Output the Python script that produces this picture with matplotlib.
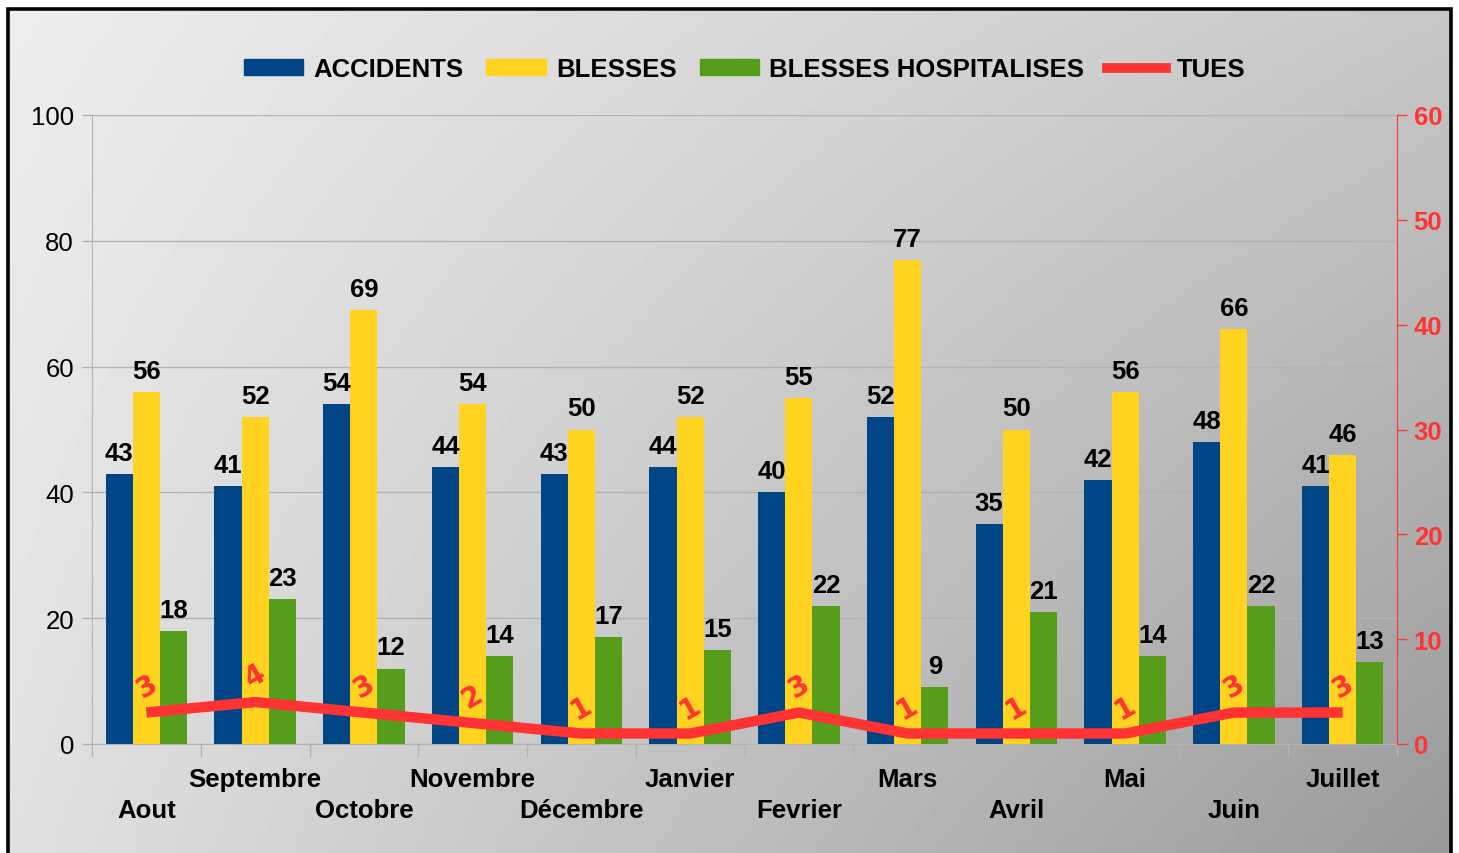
import numpy as np
import matplotlib
matplotlib.use('Agg')
from matplotlib import pyplot as plt
from matplotlib.patches import Patch
from matplotlib.lines import Line2D

plt.rcParams['font.family'] = ['Liberation Sans', 'DejaVu Sans']

# data
mois = ['Aout', 'Septembre', 'Octobre', 'Novembre', 'Décembre', 'Janvier',
        'Fevrier', 'Mars', 'Avril', 'Mai', 'Juin', 'Juillet']
accidents = [43, 41, 54, 44, 43, 44, 40, 52, 35, 42, 48, 41]
blesses = [56, 52, 69, 54, 50, 52, 55, 77, 50, 56, 66, 46]
hospitalises = [18, 23, 12, 14, 17, 15, 22, 9, 21, 14, 22, 13]
tues = [3, 4, 3, 2, 1, 1, 3, 1, 1, 1, 3, 3]

BLUE = '#004586'
YELLOW = '#ffd320'
GREEN = '#579d1c'
RED = '#ff3333'
FS = 18.5

W, H = 1459, 854
fig = plt.figure(figsize=(W / 100, H / 100), dpi=100)
fig.patch.set_facecolor('white')

# gradient background inside the frame
bx0, bx1, by0, by1 = 8, 1451, 0, 845
bg = fig.add_axes([bx0 / W, by0 / H, (bx1 - bx0) / W, (by1 - by0) / H], zorder=-10)
gx = np.linspace(0, 1, 300)
gy = np.linspace(0, 1, 200)
X, Y = np.meshgrid(gx, gy)
vals = 0.93 * (1 - X) * (1 - Y) + 0.78 * X * (1 - Y) + 0.88 * (1 - X) * Y + 0.60 * X * Y
bg.imshow(vals, cmap='gray', vmin=0, vmax=1, aspect='auto', extent=(0, 1, 1, 0))
bg.set_axis_off()

# frame
fig.add_artist(Line2D([bx0 / W, bx0 / W, bx1 / W, bx1 / W],
                      [0, (H - 9.5) / H, (H - 9.5) / H, 0],
                      transform=fig.transFigure, color='black', lw=2.6,
                      solid_joinstyle='miter'))

ax = fig.add_axes([92 / W, 1 - 745 / H, (1397 - 92) / W, (745 - 116) / H])
ax.patch.set_alpha(0)

x = np.arange(len(mois)) + 0.5
bw = 0.25
series = [(accidents, BLUE, -bw), (blesses, YELLOW, 0), (hospitalises, GREEN, bw)]
for vals_s, col, off in series:
    bars = ax.bar(x + off, vals_s, width=bw, color=col, zorder=3)
    for b, v in zip(bars, vals_s):
        ax.annotate(str(v), (b.get_x() + b.get_width() / 2, v), xytext=(0, 6.5),
                    textcoords='offset points', ha='center', va='bottom',
                    fontsize=FS, fontweight='bold', color='black', zorder=5)

ax.set_xlim(0, 12)
ax.set_ylim(0, 100)
ax.set_yticks([0, 20, 40, 60, 80, 100])
ax.yaxis.grid(True, color='#b3b3b3', lw=1)
ax.set_axisbelow(True)
ax.set_xticks(np.arange(13))
ax.set_xticklabels([])
ax.tick_params(axis='x', length=9, color='#b3b3b3', width=1)
ax.tick_params(axis='y', length=7, color='#b3b3b3', width=1, labelsize=FS, pad=6)
for s in ['top', 'right']:
    ax.spines[s].set_visible(False)
ax.spines['left'].set_color('#b3b3b3')
ax.spines['bottom'].set_color('#b3b3b3')

for i, m in enumerate(mois):
    dy = -47.5 if i % 2 == 0 else -25.5
    ax.annotate(m, (x[i], 0), xycoords=('data', 'axes fraction'), xytext=(0, dy),
                textcoords='offset points', ha='center', va='center',
                fontsize=FS, fontweight='bold', annotation_clip=False)

ax2 = ax.twinx()
ax2.set_ylim(0, 60)
ax2.set_yticks([0, 10, 20, 30, 40, 50, 60])
ax2.plot(x, tues, color=RED, lw=7.5, solid_capstyle='butt', solid_joinstyle='round', zorder=4)
for xi, t in zip(x, tues):
    ax2.annotate(str(t), (xi, t), xytext=(0, 19), textcoords='offset points',
                 ha='center', va='center', rotation=30, fontsize=20,
                 fontweight='bold', color=RED, family='DejaVu Sans', zorder=6)
for s in ['top', 'left', 'bottom']:
    ax2.spines[s].set_visible(False)
ax2.spines['right'].set_color(RED)
ax2.tick_params(axis='y', colors=RED, length=7, width=1, labelsize=FS, pad=5)
for lab in ax2.get_yticklabels():
    lab.set_fontweight('bold')

handles = [Patch(color=BLUE), Patch(color=YELLOW), Patch(color=GREEN),
           Line2D([0], [0], color=RED, lw=7)]
labels = ['ACCIDENTS', 'BLESSES', 'BLESSES HOSPITALISES', 'TUES']
leg = ax.legend(handles, labels, loc='center', bbox_to_anchor=(0.5, 1 + 46 / 629),
                ncol=4, frameon=False, handlelength=2.3, handleheight=0.55,
                handletextpad=0.4, columnspacing=0.9,
                prop={'size': FS, 'weight': 'bold'})

fig.savefig('out.png', dpi=100)
